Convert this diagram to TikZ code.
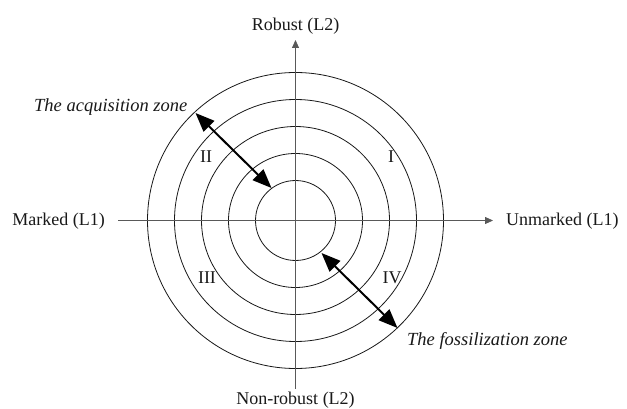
\documentclass[tikz,border=0pt]{standalone}
\usepackage{fontspec}
\setmainfont{Liberation Serif}
\usetikzlibrary{arrows.meta}
\begin{document}
\begin{tikzpicture}[x=1pt,y=-1pt,
  lbl/.style={font=\fontsize{18}{21}\selectfont, inner sep=0pt, text=black!90},
  zone/.style={font=\fontsize{18.5}{21}\selectfont\itshape, inner sep=0pt, text=black!90},
  ring/.style={draw=black!90, line width=0.8pt},
  axis/.style={draw=black!65, line width=0.8pt},
  axtip/.style={-{Triangle[length=8pt,width=7pt]}},
  bigarrow/.style={draw=black, line width=2pt,
    {Triangle[length=19pt,width=15pt]}-{Triangle[length=19pt,width=15pt]}}]
\useasboundingbox (0,0) rectangle (627,409);
\fill[white] (0,0) rectangle (627,409);

\coordinate (C) at (295.5,220.5);
% rings
\foreach \r in {40,67,94,121,148}
  \draw[ring] (C) circle[radius=\r];

% axes
\coordinate (xl) at (118,220.5);
\coordinate (xr) at (493,220.5);
\coordinate (yt) at (295.5,40);
\coordinate (yb) at (295.5,389);
\draw[axis] (xl) -- (C);
\draw[axis,axtip] (C) -- (xr);
\draw[axis,axtip] (C) -- (yt);
\draw[axis] (C) -- (yb);

% axis labels
\node[lbl,anchor=base] (rob) at (295.5,30.7) {Robust (L2)};
\node[lbl,anchor=base] (nrob) at (295.5,404.8) {Non-robust (L2)};
\node[lbl,anchor=base east] (mark) at (105,225.7) {Marked (L1)};
\node[lbl,anchor=base west] (unmark) at (506,225.7) {Unmarked (L1)};

% quadrant numerals
\node[lbl,anchor=base] (q1) at (391,162.5) {I};
\node[lbl,anchor=base] (q2) at (206,162.5) {II};
\node[lbl,anchor=base] (q3) at (207,283.5) {III};
\node[lbl,anchor=base] (q4) at (392,283.5) {IV};

% zones
\node[zone,anchor=base west] (acq) at (34,111.5) {The acquisition zone};
\node[zone,anchor=base west] (fos) at (407,345) {The fossilization zone};

\coordinate (a1) at (195.5,113);
\coordinate (a2) at (271.5,188);
\coordinate (f1) at (321.5,253);
\coordinate (f2) at (397.5,328);
\draw[bigarrow] (a1) -- (a2);
\draw[bigarrow] (f1) -- (f2);
\end{tikzpicture}
\end{document}
